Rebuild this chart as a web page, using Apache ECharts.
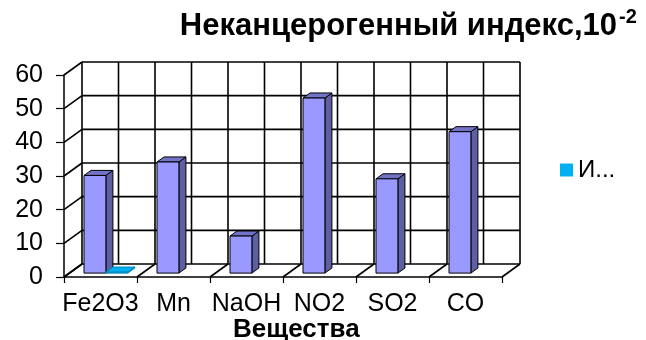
<!DOCTYPE html>
<html>
<head>
<meta charset="utf-8">
<script src="https://cdn.jsdelivr.net/npm/echarts@6/dist/echarts.min.js"></script>
<style>
  html, body { margin: 0; padding: 0; background: #fff; }
  #chart { width: 646px; height: 340px; }
</style>
</head>
<body>
<div id="chart"></div>
<script>
// Substances on the category axis
const categories = ['Fe2O3', 'Mn', 'NaOH', 'NO2', 'SO2', 'CO'];
// Non-carcinogenic index values, x10^-2
const indexValues = [29, 33, 11, 52, 28, 42];
// Second series: only a near-zero entry for Fe2O3
const secondValues = [0.3, null, null, null, null, null];
// Value-axis ticks
const yTicks = [0, 10, 20, 30, 40, 50, 60];
const legendLabel = 'И...';

// Pseudo-3D depth of the plot box (pixels from front plane to back wall)
const DEPTH_X = 18, DEPTH_Y = -13;
// Where the bars sit inside that depth (fractions)
const BAR_FRONT = 0.3, BAR_BACK = 0.69;
const FONT = '"Liberation Sans", Arial, sans-serif';

function renderWalls(params, api) {
  const cw = api.size([1, 0])[0];
  const x0 = api.coord([0, 0])[0] - cw / 2;
  const x1 = api.coord([categories.length - 1, 0])[0] + cw / 2;
  const yMin = api.coord([0, yTicks[0]])[1];
  const yMax = api.coord([0, yTicks[yTicks.length - 1]])[1];
  const bx0 = x0 + DEPTH_X, bx1 = x1 + DEPTH_X;
  const line = { stroke: '#000', lineWidth: 1.6 };
  const children = [];
  children.push({ type: 'rect', shape: { x: bx0, y: yMax + DEPTH_Y, width: bx1 - bx0, height: yMin - yMax }, style: { fill: '#fff' } });
  yTicks.forEach(function (v) {
    const y = api.coord([0, v])[1];
    // back wall gridline
    children.push({ type: 'line', shape: { x1: bx0, y1: y + DEPTH_Y, x2: bx1, y2: y + DEPTH_Y }, style: line });
    // side wall gridline
    children.push({ type: 'line', shape: { x1: x0, y1: y, x2: bx0, y2: y + DEPTH_Y }, style: line });
  });
  for (let k = 0; k <= categories.length * 2; k++) {
    const x = bx0 + k * cw / 2;
    children.push({ type: 'line', shape: { x1: x, y1: yMax + DEPTH_Y, x2: x, y2: yMin + DEPTH_Y }, style: line });
  }
  // floor edges at category boundaries
  for (let i = 0; i <= categories.length; i++) {
    const x = x0 + i * cw;
    children.push({ type: 'line', shape: { x1: x, y1: yMin, x2: x + DEPTH_X, y2: yMin + DEPTH_Y }, style: line });
  }
  return { type: 'group', children: children };
}

function makeBarRenderer(slot, colors) {
  return function (params, api) {
    const cat = api.value(0);
    const val = api.value(1);
    if (val == null || isNaN(val)) return null;
    const cw = api.size([1, 0])[0];
    const bw = cw * 0.3;
    const base = api.coord([cat, 0]);
    const top = api.coord([cat, val]);
    const left = base[0] - bw + slot * bw + DEPTH_X * BAR_FRONT;
    const right = left + bw;
    const yb = base[1] + DEPTH_Y * BAR_FRONT;
    const yt = top[1] + DEPTH_Y * BAR_FRONT;
    const ddx = DEPTH_X * (BAR_BACK - BAR_FRONT);
    const ddy = DEPTH_Y * (BAR_BACK - BAR_FRONT);
    const st = { stroke: colors.stroke, lineWidth: 1, lineJoin: 'round' };
    return {
      type: 'group',
      children: [
        { type: 'polygon', shape: { points: [[right, yt], [right + ddx, yt + ddy], [right + ddx, yb + ddy], [right, yb]] },
          style: Object.assign({ fill: colors.side }, st) },
        { type: 'polygon', shape: { points: [[left, yt], [right, yt], [right + ddx, yt + ddy], [left + ddx, yt + ddy]] },
          style: Object.assign({ fill: colors.top }, st) },
        { type: 'rect', shape: { x: left, y: yt, width: bw, height: yb - yt },
          style: Object.assign({ fill: colors.front }, st) }
      ]
    };
  };
}

const toData = arr => arr.map((v, i) => [i, v]).filter(d => d[1] != null);

const chart = echarts.init(document.getElementById('chart'), null, { renderer: 'canvas' });
chart.setOption({
  animation: false,
  backgroundColor: '#fff',
  textStyle: { fontFamily: FONT },
  grid: { left: 64, top: 75, width: 438, height: 202 },
  legend: {
    data: [{ name: legendLabel, icon: 'rect' }],
    left: 560, top: 158, padding: 0,
    itemWidth: 13, itemHeight: 13, itemGap: 8,
    textStyle: { fontSize: 24, color: '#000', fontFamily: FONT }
  },
  xAxis: {
    type: 'category',
    data: categories,
    boundaryGap: true,
    axisLine: { lineStyle: { color: '#000', width: 1.5 } },
    axisTick: { show: true, length: 6, lineStyle: { color: '#000', width: 1.2 } },
    axisLabel: { interval: 0, fontSize: 25, color: '#000', margin: 15, fontFamily: FONT },
    splitLine: { show: false }
  },
  yAxis: {
    type: 'value',
    min: yTicks[0], max: yTicks[yTicks.length - 1], interval: 10,
    axisLine: { show: true, lineStyle: { color: '#000', width: 1.5 } },
    axisTick: { show: true, length: 8, lineStyle: { color: '#000', width: 1.2 } },
    axisLabel: { fontSize: 25, color: '#000', margin: 21, fontFamily: FONT },
    splitLine: { show: false }
  },
  graphic: [
    { type: 'text', right: 29, top: 11,
      style: { text: 'Неканцерогенный индекс,10', font: 'bold 31px ' + FONT, fill: '#000' } },
    { type: 'text', left: 619, top: 7,
      style: { text: '-2', font: 'bold 20px ' + FONT, fill: '#000' } },
    { type: 'text', left: 233, top: 317,
      style: { text: 'Вещества', font: 'bold 26px ' + FONT, fill: '#000' } }
  ],
  series: [
    { type: 'custom', name: 'walls', silent: true, z: 1,
      data: [[0, 0]], encode: { x: 0, y: 1 }, renderItem: renderWalls },
    { type: 'custom', name: 'Неканцерогенный индекс', z: 3,
      itemStyle: { color: '#9999FF' },
      data: toData(indexValues), encode: { x: 0, y: 1 },
      renderItem: makeBarRenderer(0, { front: '#9999FF', side: '#5E5EA2', top: '#7272C6', stroke: '#000' }) },
    { type: 'custom', name: legendLabel, z: 3,
      itemStyle: { color: '#00B0F0' },
      data: toData(secondValues), encode: { x: 0, y: 1 },
      renderItem: makeBarRenderer(1, { front: '#0090C8', side: '#0080B0', top: '#00B0F0', stroke: '#0088BE' }) }
  ]
});
</script>
</body>
</html>
